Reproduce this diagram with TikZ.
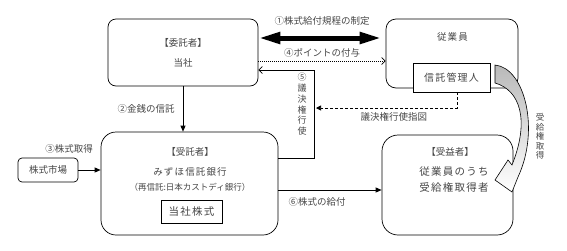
\documentclass[tikz,border=0pt]{standalone}
\usepackage{fontspec}
\setmainfont{Noto Sans CJK JP}
\newfontfamily\widejp[LetterSpace=12]{Noto Sans CJK JP}
\usetikzlibrary{arrows.meta, positioning, calc}
\definecolor{InkGray}{RGB}{70, 70, 70}
\definecolor{ShadeGray}{RGB}{185, 185, 185}

\begin{document}
\begin{tikzpicture}[
    x=1pt,
    y=-1pt,
    partybox/.style={
        rectangle,
        rounded corners=8pt,
        draw=black,
        line width=0.7pt,
        fill=white,
        align=center
    },
    innerbox/.style={
        rectangle,
        draw=black,
        line width=0.9pt,
        fill=white,
        inner sep=0pt,
        text=InkGray,
        font=\widejp\fontsize{10}{12}\selectfont
    },
    maintext/.style={
        text=InkGray,
        align=center,
        font=\fontsize{9.5}{12}\selectfont
    },
    steplabel/.style={
        text=InkGray,
        inner sep=1pt,
        font=\fontsize{9.5}{11}\selectfont
    },
    flowline/.style={
        draw=black,
        line width=0.7pt,
        -{Triangle[length=6pt,width=5pt]}
    },
    openhead/.style={
        -{Straight Barb[length=3.5pt,width=7pt]}
    }
]
\useasboundingbox (0,0) rectangle (567,250);
% -------------------------------------------------------------
% SETTLOR
% -------------------------------------------------------------
\node[
    partybox,
    maintext,
    minimum width=150pt,
    minimum height=67pt
] (settlorNode) at (183,52.5)
{
    【委託者】\\[8pt]
    当社
};
% -------------------------------------------------------------
% EMPLOYEES
% -------------------------------------------------------------
\node[
    partybox,
    rounded corners=10pt,
    minimum width=132pt,
    minimum height=69pt
] (employeeNode) at (452,53.5) {};
\node[
    maintext,
    font=\widejp\fontsize{9.5}{12}\selectfont
] (employeeText) at (452.5,37) {従業員};
\node[
    innerbox,
    minimum width=77pt,
    minimum height=29pt
] (adminNode) at (451.5,77.5) {信託管理人};
% -------------------------------------------------------------
% TRUSTEE
% -------------------------------------------------------------
\node[
    partybox,
    rounded corners=15pt,
    minimum width=177pt,
    minimum height=103pt
] (trusteeNode) at (189.5,183.5) {};
\node[maintext] (trusteeTitle) at (190,152) {【受託者】};
\node[
    maintext,
    font=\widejp\fontsize{9.5}{12}\selectfont
] (trusteeName) at (190,172) {みずほ信託銀行};
\node[
    maintext,
    font=\fontsize{8.5}{10}\selectfont
] (trusteeSub) at (190,187) {（再信託:日本カストディ銀行）};
\node[
    innerbox,
    font=\widejp\fontsize{10.5}{12}\selectfont,
    minimum width=61pt,
    minimum height=23pt
] (stockNode) at (191.5,211.5) {当社株式};
% -------------------------------------------------------------
% STOCK MARKET
% -------------------------------------------------------------
\node[
    partybox,
    maintext,
    rounded corners=4pt,
    minimum width=60pt,
    minimum height=24pt
] (marketNode) at (48,170) {株式市場};
% -------------------------------------------------------------
% BENEFICIARY
% -------------------------------------------------------------
\node[
    partybox,
    rounded corners=16pt,
    minimum width=131pt,
    minimum height=100pt
] (beneficiaryNode) at (447.5,185) {};
\node[maintext] (beneficiaryTitle) at (450,152) {【受益者】};
\node[
    maintext,
    font=\widejp\fontsize{10.5}{16}\selectfont
] (beneficiaryText) at (454,180)
{
    従業員のうち\\
    受給権取得者
};
% -------------------------------------------------------------
% 1. RULES
% -------------------------------------------------------------
\coordinate (ruleRow) at ([yshift=14.5pt]settlorNode.east);
\draw[
    line width=5pt,
    {Triangle[length=22pt,width=11pt]}-{Triangle[length=22pt,width=11pt]},
    shorten >=4pt
]
(ruleRow)
--
node[
    above=9pt,
    midway,
    steplabel
]
{①株式給付規程の制定}
(ruleRow -| employeeNode.west);
% -------------------------------------------------------------
% 4. POINTS
% -------------------------------------------------------------
\coordinate (pointRow) at ([yshift=-8.5pt]settlorNode.east);
\draw[
    line width=0.7pt,
    dash pattern=on 0.8pt off 1.2pt,
    openhead
]
(pointRow)
--
node[
    above=2pt,
    midway,
    steplabel
]
{④ポイントの付与}
(pointRow -| employeeNode.west);
% -------------------------------------------------------------
% 5. VOTING
% -------------------------------------------------------------
\coordinate (voteTop) at (314,70);
\coordinate (voteBottom) at (314,158);
\draw[
    line width=0.7pt,
    openhead
]
(trusteeNode.east |- voteBottom)
--
(voteBottom)
--
node[
    left=6pt,
    pos=0.61,
    align=center,
    steplabel,
    font=\fontsize{9}{10.8}\selectfont
]
{⑤\\議\\決\\権\\行\\使}
(voteTop)
--
(settlorNode.east |- voteTop);
% -------------------------------------------------------------
% VOTING INSTRUCTION
% -------------------------------------------------------------
\coordinate (instrStart) at ([xshift=6pt]adminNode.south);
\coordinate (instrEnd) at (316,108);
\draw[
    line width=0.7pt,
    dash pattern=on 3pt off 2pt,
    -{Triangle[length=5pt,width=5pt]}
]
(instrStart)
|-
node[
    below=3pt,
    pos=0.725,
    steplabel
]
{議決権行使指図}
(instrEnd);
% -------------------------------------------------------------
% 2. CASH TRUST
% -------------------------------------------------------------
\draw[flowline]
(settlorNode.south)
--
node[
    left=7pt,
    midway,
    steplabel
]
{②金銭の信託}
(settlorNode.south |- trusteeNode.north);
% -------------------------------------------------------------
% 3. ACQUISITION
% -------------------------------------------------------------
\draw[flowline]
(marketNode.east)
--
(trusteeNode.west |- marketNode.east);
\node[steplabel] (acquireLabel) at (69,149) {③株式取得};
% -------------------------------------------------------------
% 6. DELIVERY
% -------------------------------------------------------------
\coordinate (giveRow) at ([yshift=-6.5pt]trusteeNode.east);
\draw[flowline]
(giveRow)
--
node[
    below=6pt,
    pos=0.375,
    steplabel
]
{⑥株式の給付}
(giveRow -| beneficiaryNode.west);
% -------------------------------------------------------------
% ENTITLEMENT (block arrow)
% -------------------------------------------------------------
\draw[
    line width=0.6pt,
    top color=ShadeGray,
    bottom color=white
]
(495,65) .. controls (525,68) and (540,130) .. (518,177)
-- (512,192) -- (495,180) -- (508,160) -- (512,165)
.. controls (530,120) and (520,90) .. (495,83) -- cycle;
\node[
    steplabel,
    align=center,
    font=\fontsize{8.5}{9.6}\selectfont
] (entitleLabel) at (540,136.5)
{受\\給\\権\\取\\得};
\end{tikzpicture}
\end{document}
